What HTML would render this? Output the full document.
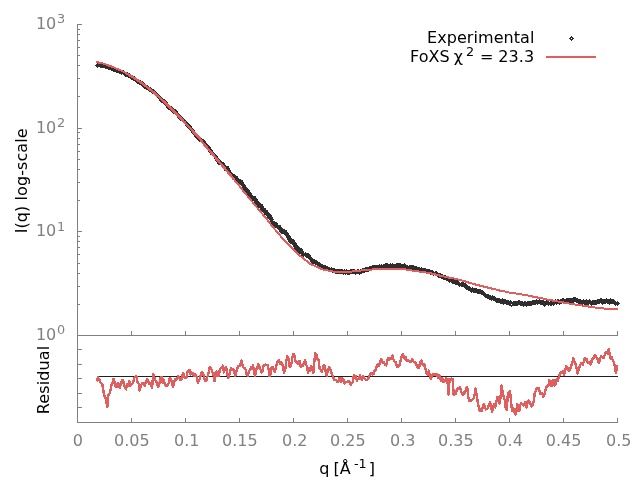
<!DOCTYPE html>
<html><head><meta charset="utf-8"><title>FoXS fit</title>
<style>html,body{margin:0;padding:0;background:#fff;overflow:hidden}svg{display:block}text{font-family:"DejaVu Sans","Liberation Sans",sans-serif}</style>
</head><body>
<svg width="640" height="480" viewBox="0 0 640 480">
<rect x="0" y="0" width="640" height="480" fill="#ffffff"/>
<g stroke="#808080" stroke-width="1" fill="none" shape-rendering="crispEdges">
<path d="M82,24.5 H77.5 V422.5 H617.5 V418"/>
<path d="M77.5,335.5 H617.5 V331"/>
<path d="M77.5,231.5 h4.5"/>
<path d="M77.5,128.5 h4.5"/>
<path d="M77.5,304.5 h2.5"/>
<path d="M77.5,286.5 h2.5"/>
<path d="M77.5,273.5 h2.5"/>
<path d="M77.5,263.5 h2.5"/>
<path d="M77.5,254.5 h2.5"/>
<path d="M77.5,247.5 h2.5"/>
<path d="M77.5,241.5 h2.5"/>
<path d="M77.5,236.5 h2.5"/>
<path d="M77.5,200.5 h2.5"/>
<path d="M77.5,182.5 h2.5"/>
<path d="M77.5,169.5 h2.5"/>
<path d="M77.5,159.5 h2.5"/>
<path d="M77.5,151.5 h2.5"/>
<path d="M77.5,144.5 h2.5"/>
<path d="M77.5,138.5 h2.5"/>
<path d="M77.5,132.5 h2.5"/>
<path d="M77.5,96.5 h2.5"/>
<path d="M77.5,78.5 h2.5"/>
<path d="M77.5,65.5 h2.5"/>
<path d="M77.5,55.5 h2.5"/>
<path d="M77.5,47.5 h2.5"/>
<path d="M77.5,40.5 h2.5"/>
<path d="M77.5,34.5 h2.5"/>
<path d="M77.5,29.5 h2.5"/>
<path d="M131.5,335.5 v-4.5"/>
<path d="M131.5,422.5 v-4.5"/>
<path d="M185.5,335.5 v-4.5"/>
<path d="M185.5,422.5 v-4.5"/>
<path d="M239.5,335.5 v-4.5"/>
<path d="M239.5,422.5 v-4.5"/>
<path d="M293.5,335.5 v-4.5"/>
<path d="M293.5,422.5 v-4.5"/>
<path d="M347.5,335.5 v-4.5"/>
<path d="M347.5,422.5 v-4.5"/>
<path d="M401.5,335.5 v-4.5"/>
<path d="M401.5,422.5 v-4.5"/>
<path d="M455.5,335.5 v-4.5"/>
<path d="M455.5,422.5 v-4.5"/>
<path d="M509.5,335.5 v-4.5"/>
<path d="M509.5,422.5 v-4.5"/>
<path d="M563.5,335.5 v-4.5"/>
<path d="M563.5,422.5 v-4.5"/>
<path d="M77.5,349.5 h4.5"/>
<path d="M77.5,364.5 h4.5"/>
<path d="M77.5,378.5 h4.5"/>
<path d="M77.5,393.5 h4.5"/>
<path d="M77.5,407.5 h4.5"/>
</g>
<path d="M98 62h2v1h-2zM97 63h8v1h-8zM96 64h12v1h-12zM95 65h16v1h-16zM96 66h17v1h-17zM97 67h1v1h-1zM100 67h16v1h-16zM105 68h14v1h-14zM108 69h13v1h-13zM111 70h11v1h-11zM123 70h1v1h-1zM113 71h12v1h-12zM116 72h12v1h-12zM119 73h11v1h-11zM121 74h1v1h-1zM123 74h8v1h-8zM124 75h9v1h-9zM125 76h10v1h-10zM128 77h8v1h-8zM130 78h7v1h-7zM131 79h8v1h-8zM133 80h8v1h-8zM135 81h8v1h-8zM136 82h8v1h-8zM137 83h8v1h-8zM139 84h7v1h-7zM141 85h7v1h-7zM142 86h7v1h-7zM143 87h8v1h-8zM144 88h8v1h-8zM146 89h8v1h-8zM148 90h7v1h-7zM149 91h7v1h-7zM151 92h6v1h-6zM152 93h6v1h-6zM154 94h5v1h-5zM155 95h5v1h-5zM156 96h5v1h-5zM157 97h5v1h-5zM158 98h5v1h-5zM159 99h6v1h-6zM159 100h7v1h-7zM160 101h7v1h-7zM161 102h7v1h-7zM163 103h5v1h-5zM164 104h5v1h-5zM165 105h5v1h-5zM166 106h6v1h-6zM166 107h7v1h-7zM167 108h7v1h-7zM168 109h8v1h-8zM170 110h7v1h-7zM171 111h7v1h-7zM172 112h6v1h-6zM173 113h6v1h-6zM175 114h5v1h-5zM176 115h5v1h-5zM177 116h5v1h-5zM177 117h6v1h-6zM178 118h6v1h-6zM179 119h6v1h-6zM180 120h6v1h-6zM182 121h5v1h-5zM183 122h5v1h-5zM184 123h5v1h-5zM185 124h5v1h-5zM185 125h6v1h-6zM186 126h6v1h-6zM187 127h5v1h-5zM188 128h5v1h-5zM189 129h5v1h-5zM190 130h5v1h-5zM191 131h4v1h-4zM191 132h5v1h-5zM192 133h5v1h-5zM193 134h5v1h-5zM194 135h5v1h-5zM194 136h6v1h-6zM195 137h6v1h-6zM196 138h6v1h-6zM197 139h7v1h-7zM198 140h7v1h-7zM199 141h7v1h-7zM201 142h5v1h-5zM202 143h5v1h-5zM203 144h5v1h-5zM204 145h5v1h-5zM205 146h5v1h-5zM206 147h5v1h-5zM207 148h4v1h-4zM207 149h5v1h-5zM208 150h5v1h-5zM208 151h5v1h-5zM209 152h5v1h-5zM210 153h5v1h-5zM210 154h6v1h-6zM212 155h5v1h-5zM213 156h5v1h-5zM214 157h4v1h-4zM214 158h5v1h-5zM215 159h5v1h-5zM215 160h6v1h-6zM216 161h6v1h-6zM217 162h7v1h-7zM217 163h8v1h-8zM218 164h7v1h-7zM221 165h5v1h-5zM221 166h8v1h-8zM222 167h7v1h-7zM223 168h7v1h-7zM224 169h6v1h-6zM224 170h7v1h-7zM227 171h4v1h-4zM227 172h5v1h-5zM228 173h5v1h-5zM229 174h6v1h-6zM229 175h7v1h-7zM230 176h8v1h-8zM231 177h7v1h-7zM232 178h7v1h-7zM233 179h8v1h-8zM234 180h9v1h-9zM236 181h7v1h-7zM237 182h7v1h-7zM238 183h6v1h-6zM240 184h5v1h-5zM241 185h5v1h-5zM242 186h4v1h-4zM241 187h6v1h-6zM242 188h6v1h-6zM243 189h6v1h-6zM244 190h6v1h-6zM244 191h6v1h-6zM246 192h5v1h-5zM246 193h6v1h-6zM247 194h5v1h-5zM248 195h5v1h-5zM249 196h7v1h-7zM249 197h7v1h-7zM250 198h7v1h-7zM251 199h7v1h-7zM252 200h6v1h-6zM254 201h5v1h-5zM254 202h6v1h-6zM255 203h6v1h-6zM256 204h7v1h-7zM257 205h6v1h-6zM257 206h7v1h-7zM258 207h6v1h-6zM260 208h6v1h-6zM260 209h6v1h-6zM261 210h7v1h-7zM261 211h7v1h-7zM263 212h6v1h-6zM264 213h6v1h-6zM264 214h7v1h-7zM266 215h6v1h-6zM267 216h5v1h-5zM267 217h6v1h-6zM268 218h5v1h-5zM269 219h5v1h-5zM270 220h3v1h-3zM270 221h5v1h-5zM270 222h7v1h-7zM271 223h7v1h-7zM272 224h6v1h-6zM272 225h9v1h-9zM273 226h8v1h-8zM275 227h7v1h-7zM277 228h6v1h-6zM278 229h7v1h-7zM279 230h8v1h-8zM279 231h8v1h-8zM280 232h8v1h-8zM281 233h8v1h-8zM284 234h5v1h-5zM285 235h5v1h-5zM286 236h5v1h-5zM286 237h5v1h-5zM287 238h5v1h-5zM287 239h7v1h-7zM288 240h7v1h-7zM288 241h7v1h-7zM289 242h7v1h-7zM290 243h7v1h-7zM292 244h5v1h-5zM293 245h5v1h-5zM293 246h6v1h-6zM294 247h6v1h-6zM294 248h8v1h-8zM295 249h8v1h-8zM295 250h8v1h-8zM297 251h7v1h-7zM298 252h6v1h-6zM305 252h1v1h-1zM298 253h11v1h-11zM301 254h9v1h-9zM301 255h10v1h-10zM303 256h1v1h-1zM305 256h6v1h-6zM306 257h6v1h-6zM308 258h5v1h-5zM309 259h6v1h-6zM310 260h7v1h-7zM310 261h8v1h-8zM311 262h9v1h-9zM312 263h9v1h-9zM385 263h3v1h-3zM390 263h1v1h-1zM392 263h1v1h-1zM396 263h5v1h-5zM404 263h1v1h-1zM315 264h8v1h-8zM379 264h1v1h-1zM381 264h1v1h-1zM383 264h23v1h-23zM317 265h9v1h-9zM372 265h36v1h-36zM409 265h5v1h-5zM318 266h10v1h-10zM369 266h48v1h-48zM320 267h10v1h-10zM331 267h1v1h-1zM365 267h55v1h-55zM421 267h1v1h-1zM321 268h14v1h-14zM362 268h20v1h-20zM383 268h2v1h-2zM388 268h2v1h-2zM391 268h1v1h-1zM393 268h3v1h-3zM401 268h3v1h-3zM405 268h21v1h-21zM323 269h20v1h-20zM344 269h1v1h-1zM346 269h1v1h-1zM350 269h5v1h-5zM357 269h2v1h-2zM360 269h19v1h-19zM380 269h1v1h-1zM406 269h2v1h-2zM409 269h21v1h-21zM326 270h46v1h-46zM414 270h19v1h-19zM328 271h2v1h-2zM331 271h38v1h-38zM417 271h17v1h-17zM435 271h2v1h-2zM332 272h33v1h-33zM420 272h1v1h-1zM422 272h16v1h-16zM335 273h27v1h-27zM426 273h15v1h-15zM343 274h1v1h-1zM345 274h1v1h-1zM347 274h3v1h-3zM355 274h1v1h-1zM359 274h1v1h-1zM430 274h13v1h-13zM433 275h1v1h-1zM435 275h11v1h-11zM437 276h12v1h-12zM438 277h13v1h-13zM441 278h11v1h-11zM443 279h12v1h-12zM446 280h12v1h-12zM448 281h11v1h-11zM449 282h1v1h-1zM451 282h9v1h-9zM461 282h3v1h-3zM452 283h14v1h-14zM455 284h12v1h-12zM458 285h10v1h-10zM459 286h1v1h-1zM461 286h9v1h-9zM464 287h7v1h-7zM472 287h1v1h-1zM465 288h12v1h-12zM466 289h15v1h-15zM468 290h15v1h-15zM470 291h14v1h-14zM471 292h1v1h-1zM473 292h12v1h-12zM477 293h9v1h-9zM481 294h8v1h-8zM483 295h8v1h-8zM492 295h1v1h-1zM484 296h11v1h-11zM485 297h11v1h-11zM573 297h3v1h-3zM487 298h13v1h-13zM502 298h1v1h-1zM562 298h2v1h-2zM566 298h12v1h-12zM600 298h2v1h-2zM606 298h1v1h-1zM610 298h1v1h-1zM489 299h17v1h-17zM536 299h1v1h-1zM539 299h1v1h-1zM549 299h1v1h-1zM555 299h1v1h-1zM557 299h2v1h-2zM560 299h21v1h-21zM583 299h1v1h-1zM586 299h1v1h-1zM589 299h1v1h-1zM597 299h17v1h-17zM491 300h1v1h-1zM493 300h16v1h-16zM510 300h1v1h-1zM518 300h2v1h-2zM532 300h12v1h-12zM546 300h5v1h-5zM552 300h1v1h-1zM554 300h37v1h-37zM592 300h23v1h-23zM495 301h17v1h-17zM513 301h10v1h-10zM524 301h2v1h-2zM527 301h22v1h-22zM550 301h66v1h-66zM617 301h1v1h-1zM496 302h78v1h-78zM576 302h43v1h-43zM500 303h62v1h-62zM565 303h1v1h-1zM572 303h1v1h-1zM578 303h22v1h-22zM601 303h5v1h-5zM607 303h13v1h-13zM503 304h1v1h-1zM506 304h5v1h-5zM512 304h24v1h-24zM537 304h1v1h-1zM540 304h15v1h-15zM556 304h1v1h-1zM559 304h1v1h-1zM581 304h2v1h-2zM584 304h5v1h-5zM590 304h7v1h-7zM602 304h1v1h-1zM609 304h1v1h-1zM614 304h5v1h-5zM509 305h9v1h-9zM520 305h12v1h-12zM543 305h3v1h-3zM548 305h1v1h-1zM550 305h2v1h-2zM553 305h1v1h-1zM585 305h1v1h-1zM591 305h1v1h-1zM615 305h1v1h-1zM617 305h1v1h-1zM511 306h1v1h-1zM523 306h1v1h-1zM526 306h1v1h-1zM544 306h1v1h-1z" fill="#2e2e2e" shape-rendering="crispEdges"/>
<polyline points="96.0,62.0 97.0,62.2 98.0,62.4 99.1,62.7 100.1,62.9 101.2,63.2 102.2,63.4 103.2,63.6 104.3,63.9 105.3,64.3 106.4,64.7 107.4,65.1 108.4,65.5 109.5,65.8 110.5,66.2 111.6,66.6 112.6,67.0 113.6,67.4 114.7,67.8 115.7,68.3 116.8,68.7 117.8,69.2 118.8,69.6 119.9,70.1 120.9,70.5 122.0,70.9 123.0,71.4 124.0,72.0 125.1,72.6 126.1,73.2 127.2,73.8" fill="none" stroke="#e05e5e" stroke-width="2.0" stroke-linejoin="round" shape-rendering="crispEdges"/>
<polyline points="126.1,73.2 127.2,73.8 128.2,74.4 129.2,75.0 130.3,75.6 131.3,76.2 132.4,76.8 133.4,77.5 134.4,78.2 135.5,78.9 136.5,79.5 137.6,80.2 138.6,80.9 139.6,81.6 140.7,82.3 141.7,83.0 142.8,83.8 143.8,84.6 144.8,85.4 145.9,86.2 146.9,87.0 148.0,87.8 149.0,88.6 150.0,89.4 151.1,90.2 152.1,91.0 153.2,91.8 154.2,92.8 155.2,93.7 156.3,94.7 157.3,95.6 158.4,96.5 159.4,97.5 160.4,98.4 161.5,99.3 162.5,100.3 163.6,101.2 164.6,102.1 165.6,103.1 166.7,104.2 167.7,105.2 168.8,106.3 169.8,107.3 170.8,108.3 171.9,109.4 172.9,110.4 174.0,111.5 175.0,112.5 176.0,113.5 177.1,114.6 178.1,115.6 179.2,116.7 180.2,117.8 181.2,118.9 182.3,120.0 183.3,121.1 184.4,122.1 185.4,123.2 186.4,124.3 187.5,125.4 188.5,126.5 189.6,127.5 190.6,128.6 191.6,129.8 192.7,130.9 193.7,132.0 194.8,133.1 195.8,134.2 196.8,135.4 197.9,136.5 198.9,137.6 200.0,138.7 201.0,140.2 202.0,141.8 203.1,143.2 204.1,144.4 205.2,145.6 206.2,146.8 207.2,148.0 208.3,149.2 209.3,150.4 210.4,151.6 211.4,152.8 212.4,154.0 213.5,155.2 214.5,156.4 215.6,157.7 216.6,158.9 217.6,160.1 218.7,161.3 219.7,162.5 220.8,163.7 221.8,164.9 222.8,166.2 223.9,167.4 224.9,168.6 226.0,169.8 227.0,171.0 228.0,172.2 229.1,173.5 230.1,174.7 231.2,176.0 232.2,177.2 233.2,178.5 234.3,179.7" fill="none" stroke="#e05e5e" stroke-width="2.45" stroke-linejoin="round" shape-rendering="crispEdges"/>
<polyline points="233.2,178.5 234.3,179.7 235.3,181.0 236.4,182.2 237.4,183.5 238.4,184.7 239.5,186.0 240.5,187.3 241.6,188.7 242.6,190.1 243.6,191.4 244.7,192.7 245.7,193.9 246.8,195.2 247.8,196.4 248.8,197.7 249.9,199.0 250.9,200.2 252.0,201.5 253.0,202.8 254.0,204.0 255.1,205.3 256.1,206.5 257.2,207.8 258.2,209.0 259.2,210.2 260.3,211.5 261.3,212.7 262.4,213.9 263.4,215.1 264.4,216.4 265.5,217.6 266.5,218.8 267.6,220.1 268.6,221.5 269.6,222.8 270.7,224.2 271.7,225.6 272.8,226.9 273.8,228.1 274.8,229.3 275.9,230.6 276.9,231.8 278.0,233.0 279.0,234.2 280.0,235.4 281.1,236.7 282.1,237.9 283.2,239.1 284.2,240.3 285.2,241.5 286.3,242.5 287.3,243.6 288.4,244.6 289.4,245.6 290.4,246.7 291.5,247.7 292.5,248.8 293.6,249.8 294.6,250.9 295.6,251.9 296.7,252.9 297.7,253.9 298.8,254.8 299.8,255.6" fill="none" stroke="#e05e5e" stroke-width="1.95" stroke-linejoin="round" shape-rendering="crispEdges"/>
<polyline points="298.8,254.8 299.8,255.6 300.8,256.4 301.9,257.3 302.9,258.1 304.0,258.9 305.0,259.8 306.0,260.6 307.1,261.4 308.1,262.2 309.2,263.1 310.2,263.8 311.2,264.3 312.3,264.8 313.3,265.3 314.4,265.7 315.4,266.2 316.4,266.7 317.5,267.1 318.5,267.6 319.6,268.1 320.6,268.5 321.6,269.0 322.7,269.4 323.7,269.6 324.8,269.9 325.8,270.1 326.8,270.3 327.9,270.5 328.9,270.7 330.0,270.9 331.0,271.1 332.0,271.3 333.1,271.5 334.1,271.7 335.2,271.9 336.2,271.9 337.2,271.9 338.3,271.9 339.3,271.9 340.4,271.9 341.4,271.9 342.4,271.9 343.5,271.9 344.5,271.9 345.6,271.9 346.6,271.9 347.6,271.9 348.7,271.8 349.7,271.7 350.8,271.6 351.8,271.5 352.8,271.3 353.9,271.2 354.9,271.1 356.0,271.0 357.0,270.9 358.0,270.8 359.1,270.7 360.1,270.6 361.2,270.5 362.2,270.4 363.2,270.3 364.3,270.2 365.3,270.1 366.4,270.0 367.4,269.9 368.4,269.8 369.5,269.7 370.5,269.6 371.6,269.5 372.6,269.4 373.6,269.3 374.7,269.2 375.7,269.1 376.8,269.0 377.8,268.9 378.8,268.9 379.9,268.8 380.9,268.8 382.0,268.8 383.0,268.8 384.0,268.8 385.1,268.8 386.1,268.8 387.2,268.8 388.2,268.8 389.2,268.8 390.3,268.8 391.3,268.8 392.4,268.8 393.4,268.8 394.4,268.9 395.5,268.9 396.5,269.0 397.6,269.0 398.6,269.1 399.6,269.1 400.7,269.2 401.7,269.2 402.8,269.3 403.8,269.3 404.8,269.4 405.9,269.5 406.9,269.7 408.0,269.8 409.0,270.0 410.0,270.1 411.1,270.3 412.1,270.5 413.2,270.6 414.2,270.8 415.2,270.9 416.3,271.1 417.3,271.2 418.4,271.4 419.4,271.5 420.4,271.7 421.5,271.8 422.5,272.0 423.6,272.1 424.6,272.3 425.6,272.5 426.7,272.6 427.7,272.8 428.8,272.9 429.8,273.1 430.8,273.3 431.9,273.6 432.9,273.8 434.0,274.1 435.0,274.4 436.0,274.6 437.1,274.9 438.1,275.1 439.2,275.4 440.2,275.7 441.2,275.9 442.3,276.2 443.3,276.4 444.4,276.6 445.4,276.8 446.4,277.0 447.5,277.2 448.5,277.5 449.6,277.7 450.6,277.9 451.6,278.1 452.7,278.3 453.7,278.5 454.8,278.7 455.8,278.9 456.8,279.2 457.9,279.5 458.9,279.7 460.0,280.0 461.0,280.2 462.0,280.5 463.1,280.8 464.1,281.1 465.2,281.4 466.2,281.7 467.2,282.0 468.3,282.4 469.3,282.7 470.4,283.0 471.4,283.3 472.4,283.6 473.5,283.9 474.5,284.3 475.6,284.5 476.6,284.8 477.6,285.1 478.7,285.3 479.7,285.6 480.8,285.8 481.8,286.1 482.8,286.3 483.9,286.6 484.9,286.9 486.0,287.1 487.0,287.4 488.0,287.6 489.1,287.9 490.1,288.1 491.2,288.4 492.2,288.7 493.2,288.9 494.3,289.2 495.3,289.4 496.4,289.7 497.4,290.0 498.4,290.2 499.5,290.5 500.5,290.7 501.6,290.9 502.6,291.1 503.6,291.3 504.7,291.5 505.7,291.7 506.8,292.0 507.8,292.2 508.8,292.4 509.9,292.6 510.9,292.8 512.0,293.0 513.0,293.2 514.0,293.3 515.1,293.4 516.1,293.5 517.2,293.7 518.2,293.8 519.2,293.9 520.3,294.1 521.3,294.3 522.4,294.5 523.4,294.7 524.4,294.9 525.5,295.1 526.5,295.3 527.6,295.5 528.6,295.7 529.6,295.9 530.7,296.1 531.7,296.3 532.8,296.6 533.8,296.8 534.8,297.0 535.9,297.2 536.9,297.4 538.0,297.6 539.0,297.8 540.0,298.0 541.1,298.2 542.1,298.4 543.2,298.6 544.2,298.8 545.2,299.0 546.3,299.3 547.3,299.5 548.4,299.7 549.4,299.9 550.4,300.1 551.5,300.3 552.5,300.5 553.6,300.7 554.6,300.9 555.6,301.1 556.7,301.3 557.7,301.5 558.8,301.7 559.8,301.9 560.8,302.1 561.9,302.2 562.9,302.4 564.0,302.6 565.0,302.8 566.0,303.0 567.1,303.1 568.1,303.3 569.2,303.5 570.2,303.7 571.2,303.8 572.3,304.0 573.3,304.2 574.4,304.4 575.4,304.6 576.4,304.7 577.5,304.9 578.5,305.0 579.6,305.2 580.6,305.3 581.6,305.5 582.7,305.7 583.7,305.8 584.8,306.0 585.8,306.1 586.8,306.3 587.9,306.4 588.9,306.6 590.0,306.7 591.0,306.9 592.0,307.1 593.1,307.2 594.1,307.4 595.2,307.5 596.2,307.6 597.2,307.8 598.3,307.9 599.3,308.0 600.4,308.1 601.4,308.2 602.4,308.4 603.5,308.5 604.5,308.6 605.6,308.7 606.6,308.8 607.6,309.0 608.7,309.0 609.7,309.1 610.8,309.1 611.8,309.1 612.8,309.1 613.9,309.2 614.9,309.2 616.0,309.2 617.0,309.3 617.9,309.3" fill="none" stroke="#e05e5e" stroke-width="2.0" stroke-linejoin="round" shape-rendering="crispEdges"/>
<path d="M97,376.5 H618" stroke="#202020" stroke-width="1" shape-rendering="crispEdges"/>
<polyline points="96.6,381.2 98.0,377.5 99.1,379.0 100.1,381.9 101.2,383.1 102.2,383.8 103.2,390.0 104.3,395.4 105.3,397.5 106.4,402.5 107.4,406.8 108.4,395.0 109.5,393.5 110.5,390.0 111.6,384.9 112.6,382.9 113.6,378.8 114.7,382.5 115.7,386.7 116.8,386.9 117.8,383.1 118.8,384.5 119.9,388.1 120.9,383.4 122.0,379.8 123.0,380.0 124.0,385.1 125.1,387.3 126.1,389.4 127.2,384.1 128.2,385.6 129.2,381.2 130.3,385.6 131.3,384.4 132.4,383.4 133.4,381.6 134.4,377.6 135.5,376.9 136.5,376.2 137.6,382.4 138.6,383.5 139.6,390.6 140.7,386.5 141.7,383.8 142.8,383.0 143.8,382.7 144.8,385.6 145.9,381.7 146.9,379.4 148.0,380.3 149.0,383.6 150.0,383.0 151.1,385.7 152.1,387.5 153.2,373.8 154.2,377.2 155.2,380.0 156.3,381.5 157.3,384.6 158.4,386.9 159.4,383.8 160.4,378.2 161.5,376.9 162.5,382.5 163.6,379.4 164.6,383.4 165.6,385.1 166.7,386.0 167.7,385.6 168.8,382.9 169.8,378.1 170.8,379.5 171.9,382.0 172.9,386.9 174.0,383.4 175.0,379.4 176.0,380.0 177.1,379.2 178.1,376.2 179.2,377.3 180.2,380.0 181.2,380.0 182.3,374.8 183.3,373.1 184.4,377.2 185.4,378.1 186.4,377.5 187.5,371.8 188.5,371.2 189.6,370.1 190.6,374.3 191.6,372.5 192.7,373.1 193.7,375.9 194.8,373.8 195.8,375.5 196.8,376.7 197.9,382.5 198.9,380.9 200.0,378.8 201.0,373.3 202.0,372.0 203.1,373.4 204.1,377.8 205.2,381.2 206.2,381.3 207.2,377.5 208.3,374.4 209.3,367.7 210.4,367.5 211.4,369.0 212.4,372.5 213.5,373.9 214.5,381.2 215.6,372.5 216.6,371.7 217.6,376.2 218.7,376.1 219.7,370.6 220.8,367.7 221.8,368.0 222.8,365.6 223.9,372.5 224.9,368.7 226.0,366.9 227.0,371.6 228.0,378.1 229.1,375.8 230.1,371.2 231.2,368.3 232.2,370.0 233.2,368.8 234.3,371.9 235.3,376.2 236.4,371.4 237.4,368.1 238.4,365.9 239.5,366.2 240.5,363.5 241.6,360.6 242.6,365.1 243.6,367.4 244.7,368.1 245.7,369.8 246.8,374.9 247.8,375.6 248.8,371.7 249.9,369.4 250.9,367.5 252.0,368.5 253.0,365.0 254.0,371.3 255.1,376.2 256.1,369.1 257.2,369.0 258.2,363.8 259.2,366.0 260.3,368.8 261.3,372.5 262.4,371.1 263.4,366.2 264.4,365.1 265.5,364.5 266.5,365.0 267.6,365.2 268.6,369.0 269.6,376.2 270.7,373.3 271.7,366.9 272.8,367.0 273.8,370.5 274.8,371.9 275.9,367.2 276.9,363.1 278.0,361.3 279.0,360.0 280.0,363.5 281.1,362.1 282.1,363.1 283.2,368.2 284.2,372.5 285.2,370.0 286.3,361.0 287.3,356.2 288.4,358.1 289.4,366.5 290.4,366.9 291.5,363.4 292.5,356.8 293.6,353.8 294.6,355.9 295.6,361.9 296.7,362.9 297.7,363.8 298.8,361.2 299.8,361.3 300.8,366.9 301.9,366.2 302.9,366.2 304.0,362.6 305.0,360.0 306.0,364.0 307.1,366.7 308.1,373.1 309.2,368.4 310.2,370.9 311.2,366.2 312.3,368.7 313.3,373.1 314.4,360.9 315.4,353.1 316.4,354.8 317.5,359.8 318.5,359.4 319.6,368.1 320.6,369.8 321.6,371.9 322.7,368.9 323.7,365.6 324.8,365.6 325.8,372.7 326.8,376.2 327.9,369.4 328.9,367.5 330.0,368.5 331.0,371.2 332.0,374.8 333.1,376.9 334.1,380.1 335.2,380.2 336.2,379.8 337.2,381.9 338.3,382.0 339.3,378.1 340.4,378.5 341.4,381.9 342.4,378.2 343.5,380.0 344.5,383.8 345.6,382.1 346.6,382.3 347.6,381.9 348.7,380.8 349.7,382.4 350.8,385.0 351.8,382.7 352.8,382.5 353.9,375.0 354.9,377.1 356.0,376.4 357.0,380.6 358.0,378.7 359.1,379.1 360.1,375.0 361.2,379.5 362.2,379.4 363.2,376.2 364.3,377.9 365.3,379.6 366.4,380.0 367.4,379.6 368.4,378.1 369.5,375.5 370.5,373.9 371.6,372.8 372.6,374.4 373.6,374.1 374.7,370.7 375.7,369.8 376.8,366.2 377.8,363.8 378.8,366.2 379.9,363.9 380.9,359.4 382.0,360.4 383.0,363.2 384.0,362.6 385.1,365.0 386.1,365.4 387.2,361.2 388.2,357.9 389.2,359.5 390.3,358.1 391.3,358.5 392.4,355.6 393.4,359.5 394.4,361.6 395.5,361.9 396.5,365.1 397.6,367.0 398.6,366.2 399.6,364.9 400.7,360.6 401.7,356.5 402.8,353.8 403.8,356.0 404.8,358.5 405.9,357.5 406.9,361.0 408.0,359.9 409.0,361.2 410.0,362.0 411.1,361.8 412.1,359.4 413.2,361.0 414.2,362.3 415.2,362.5 416.3,364.2 417.3,367.1 418.4,368.1 419.4,366.1 420.4,361.3 421.5,360.6 422.5,363.9 423.6,365.6 424.6,364.4 425.6,369.7 426.7,373.5 427.7,375.0 428.8,370.6 429.8,375.2 430.8,378.8 431.9,376.5 432.9,373.8 434.0,375.1 435.0,374.5 436.0,373.9 437.1,374.4 438.1,377.6 439.2,374.9 440.2,378.8 441.2,380.7 442.3,378.0 443.3,381.9 444.4,381.7 445.4,379.8 446.4,378.1 447.5,381.8 448.5,394.4 449.6,378.8 450.6,379.8 451.6,378.7 452.7,378.8 453.7,395.0 454.8,394.1 455.8,393.7 456.8,389.4 457.9,387.9 458.9,388.8 460.0,387.2 461.0,390.6 462.0,394.4 463.1,395.0 464.1,391.9 465.2,392.5 466.2,388.2 467.2,386.9 468.3,397.5 469.3,400.8 470.4,400.6 471.4,400.6 472.4,399.4 473.5,398.8 474.5,395.7 475.6,388.5 476.6,395.1 477.6,401.2 478.7,406.8 479.7,411.2 480.8,409.4 481.8,410.6 482.8,406.8 483.9,403.8 484.9,407.2 486.0,409.4 487.0,408.8 488.0,408.4 489.1,403.8 490.1,402.5 491.2,407.8 492.2,411.9 493.2,407.2 494.3,403.8 495.3,407.5 496.4,401.4 497.4,396.9 498.4,400.3 499.5,403.8 500.5,397.4 501.6,385.6 502.6,391.4 503.6,396.7 504.7,400.0 505.7,407.6 506.8,410.0 507.8,394.4 508.8,392.0 509.9,391.2 510.9,399.2 512.0,411.2 513.0,408.1 514.0,410.2 515.1,414.4 516.1,414.4 517.2,403.8 518.2,407.9 519.2,411.2 520.3,404.8 521.3,403.1 522.4,404.2 523.4,405.6 524.4,403.6 525.5,401.9 526.5,407.5 527.6,402.6 528.6,400.6 529.6,402.0 530.7,404.4 531.7,406.5 532.8,405.0 533.8,401.0 534.8,392.5 535.9,391.2 536.9,388.0 538.0,388.8 539.0,387.9 540.0,394.1 541.1,393.1 542.1,393.0 543.2,396.9 544.2,394.9 545.2,391.3 546.3,387.0 547.3,386.2 548.4,385.7 549.4,380.2 550.4,381.9 551.5,386.2 552.5,381.1 553.6,380.0 554.6,385.6 555.6,383.9 556.7,379.2 557.7,381.0 558.8,376.9 559.8,374.1 560.8,372.1 561.9,372.5 562.9,371.5 564.0,375.0 565.0,371.3 566.0,366.2 567.1,367.1 568.1,369.5 569.2,370.6 570.2,368.7 571.2,366.0 572.3,363.3 573.3,358.1 574.4,361.9 575.4,363.8 576.4,367.3 577.5,373.8 578.5,369.6 579.6,366.9 580.6,364.5 581.6,363.0 582.7,365.0 583.7,361.8 584.8,358.1 585.8,360.2 586.8,359.2 587.9,363.1 588.9,362.3 590.0,363.3 591.0,364.4 592.0,358.8 593.1,358.9 594.1,356.4 595.2,355.0 596.2,357.1 597.2,358.1 598.3,362.5 599.3,362.4 600.4,357.9 601.4,356.2 602.4,357.6 603.5,358.0 604.5,355.6 605.6,352.5 606.6,352.5 607.6,353.4 608.7,348.8 609.7,354.4 610.8,358.8 611.8,357.4 612.8,360.0 613.9,362.6 614.9,366.9 616.0,373.1 617.0,365.0" fill="none" stroke="#e05e5e" stroke-width="2.4" stroke-linejoin="round" shape-rendering="crispEdges"/>
<rect x="546" y="56" width="50" height="2" fill="#e05e5e" shape-rendering="crispEdges"/>
<path d="M571 36h1v1h-1zM570 37h3v1h-3zM569 38h2v1h-2zM572 38h2v1h-2zM570 39h3v1h-3zM571 40h1v1h-1z" fill="#2e2e2e" shape-rendering="crispEdges"/>
<g font-size="16px" fill="#000">
<text x="534.4" y="43" text-anchor="end" letter-spacing="0.05">Experimental</text>
<text><tspan x="410" y="62.2">FoXS </tspan><tspan x="453.8" y="62.2">χ</tspan><tspan x="466.1" y="56.3" font-size="12.8px">2 </tspan><tspan x="480" y="62.2">= </tspan><tspan x="534.2" y="62.2" text-anchor="end" letter-spacing="0.1">23.3</tspan></text>
<text transform="translate(27,180.8) rotate(-90)" text-anchor="middle" letter-spacing="0.08">I(q) log-scale</text>
<text transform="translate(49,380) rotate(-90)" text-anchor="middle" letter-spacing="0.12">Residual</text>
<text><tspan x="319.3" y="474">q </tspan><tspan x="333.5" y="474">[Å</tspan><tspan x="354" y="468" font-size="12.8px">-1 </tspan><tspan x="368.8" y="474">]</tspan></text>
</g>
<g font-size="16px" fill="#808080">
<text><tspan x="56.3" y="340.0" text-anchor="end">10</tspan><tspan x="57.1" y="334.2" font-size="12.8px">0</tspan></text>
<text><tspan x="56.3" y="236.3" text-anchor="end">10</tspan><tspan x="57.1" y="230.5" font-size="12.8px">1</tspan></text>
<text><tspan x="56.3" y="132.7" text-anchor="end">10</tspan><tspan x="57.1" y="126.9" font-size="12.8px">2</tspan></text>
<text><tspan x="56.3" y="29.0" text-anchor="end">10</tspan><tspan x="57.1" y="23.2" font-size="12.8px">3</tspan></text>
<text x="77.8" y="446" text-anchor="middle">0</text>
<text x="131.8" y="446" text-anchor="middle">0.05</text>
<text x="186.7" y="446" text-anchor="middle">0.1</text>
<text x="239.8" y="446" text-anchor="middle">0.15</text>
<text x="294.7" y="446" text-anchor="middle">0.2</text>
<text x="347.8" y="446" text-anchor="middle">0.25</text>
<text x="402.7" y="446" text-anchor="middle">0.3</text>
<text x="455.8" y="446" text-anchor="middle">0.35</text>
<text x="510.1" y="446" text-anchor="middle">0.4</text>
<text x="563.6" y="446" text-anchor="middle">0.45</text>
<text x="618.8" y="446" text-anchor="middle">0.5</text>
</g>
</svg>
</body></html>
